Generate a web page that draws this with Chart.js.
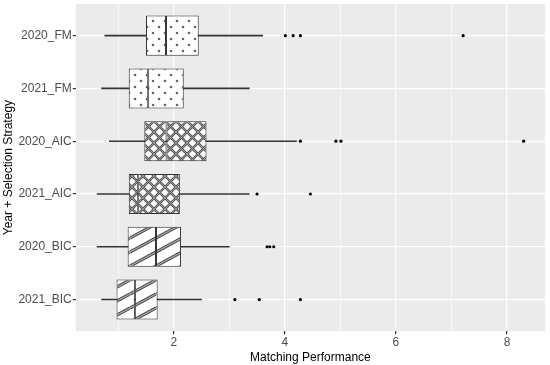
<!DOCTYPE html>
<html>
  <head>
    <title>Matching Performance</title>
    <script src="https://cdn.jsdelivr.net/npm/chart.js"></script>
    <style>
      body { margin: 0; background: #fff; }
      #wrap { width: 550px; height: 365px; }
    </style>
  </head>
  <body>
    <div id="wrap"><canvas id="boxChart"></canvas></div>

    <script>
      // 카테고리 (위에서 아래 순서)
      const labels = ["2020_FM", "2021_FM", "2020_AIC", "2021_AIC", "2020_BIC", "2021_BIC"];

      // 박스플롯 값
      const whiskerLow = [0.76, 0.70, 0.84, 0.62, 0.62, 0.70];
      const q1 = [1.50, 1.19, 1.47, 1.19, 1.17, 0.97];
      const median = [1.86, 1.54, 1.87, 1.36, 1.68, 1.30];
      const q3 = [2.45, 2.18, 2.59, 2.11, 2.13, 1.71];
      const whiskerHigh = [3.60, 3.36, 4.21, 3.36, 3.00, 2.50];

      // 이상치
      const outliers = [
        [4.01, 4.15, 4.28, 7.21],
        [],
        [4.28, 4.92, 5.01, 8.30],
        [3.50, 4.46],
        [3.68, 3.73, 3.80],
        [3.10, 3.54, 4.28],
      ];

      const xTicks = [1, 2, 3, 4, 5, 6, 7, 8];

      // 패턴 만들기
      function makePattern(kind) {
        const c = document.createElement("canvas");
        const g = c.getContext("2d");
        if (kind === "dots") {
          c.width = 12; c.height = 12;
          g.fillStyle = "#fff";
          g.fillRect(0, 0, 12, 12);
          g.fillStyle = "#666";
          [[3, 3], [9, 9]].forEach(([x, y]) => {
            g.beginPath();
            g.arc(x, y, 1.3, 0, Math.PI * 2);
            g.fill();
          });
        } else if (kind === "cross") {
          const s = 11;
          c.width = s; c.height = s;
          g.fillStyle = "#fff";
          g.fillRect(0, 0, s, s);
          const draw = (w, col) => {
            g.strokeStyle = col;
            g.lineWidth = w;
            for (let k = -1; k <= 1; k++) {
              g.beginPath();
              g.moveTo(k * s, 0); g.lineTo(k * s + s, s);
              g.moveTo(k * s + s, 0); g.lineTo(k * s, s);
              g.stroke();
            }
          };
          draw(2.4, "#555");
          draw(0.8, "#aaa");
        } else {
          const w = 26, h = 14;
          c.width = w; c.height = h;
          g.fillStyle = "#fff";
          g.fillRect(0, 0, w, h);
          const draw = (lw, col) => {
            g.strokeStyle = col;
            g.lineWidth = lw;
            for (let k = -1; k <= 1; k++) {
              g.beginPath();
              g.moveTo(0, h + k * h); g.lineTo(w, k * h);
              g.stroke();
            }
          };
          draw(3.2, "#444");
          draw(1.2, "#aaa");
        }
        return g.createPattern(c, "repeat");
      }

      const pats = { FM: makePattern("dots"), AIC: makePattern("cross"), BIC: makePattern("stripes") };
      const fills = labels.map((l) => pats[l.split("_")[1]]);

      // 회색 패널 배경
      const panelBg = {
        id: "panelBg",
        beforeDraw(chart) {
          const { ctx, chartArea: a } = chart;
          ctx.save();
          ctx.fillStyle = "#EBEBEB";
          ctx.fillRect(a.left, a.top, a.right - a.left, a.bottom - a.top);
          ctx.restore();
        },
      };

      const boxCommon = {
        type: "bar",
        indexAxis: "y",
        grouped: false,
        categoryPercentage: 1,
        barPercentage: 0.76,
        borderColor: "#333",
        borderWidth: 1,
        borderSkipped: false,
        backgroundColor: fills,
        order: 2,
      };

      const pointData = [];
      outliers.forEach((arr, i) => arr.forEach((v) => pointData.push({ x: v, y: i })));

      const font = { family: "'Liberation Sans', Arial, sans-serif", size: 12 };

      new Chart(document.getElementById("boxChart"), {
        data: {
          datasets: [
            {
              type: "bar",
              indexAxis: "y",
              grouped: false,
              data: labels.map((l, i) => ({ x: [whiskerLow[i], whiskerHigh[i]], y: i })),
              barThickness: 1,
              backgroundColor: "#333",
              borderWidth: 0,
              order: 3,
            },
            Object.assign({}, boxCommon, {
              data: labels.map((l, i) => ({ x: [q1[i], median[i]], y: i })),
            }),
            Object.assign({}, boxCommon, {
              data: labels.map((l, i) => ({ x: [median[i], q3[i]], y: i })),
            }),
            {
              type: "scatter",
              data: pointData,
              pointRadius: 1.6,
              pointBackgroundColor: "#000",
              pointBorderWidth: 0,
              order: 1,
            },
          ],
        },
        options: {
          responsive: true,
          maintainAspectRatio: false,
          animation: false,
          layout: { padding: { top: 4, right: 5, bottom: 0, left: 0 } },
          plugins: { legend: { display: false }, tooltip: { enabled: false } },
          scales: {
            x: {
              type: "linear",
              min: 0.236,
              max: 8.684,
              offset: false,
              afterBuildTicks: (axis) => {
                axis.ticks = xTicks.map((v) => ({ value: v }));
              },
              border: { display: false },
              grid: {
                offset: false,
                color: "#fff",
                lineWidth: (c) => (c.tick && c.tick.value % 2 === 0 ? 1.2 : 0.6),
                tickColor: (c) => (c.tick && c.tick.value % 2 === 0 ? "#333" : "rgba(0,0,0,0)"),
                tickLength: 3,
              },
              ticks: {
                color: "#4D4D4D",
                font: font,
                padding: 1,
                maxRotation: 0,
                callback: (v) => (v % 2 === 0 ? v : ""),
              },
              title: {
                display: true,
                text: "Matching Performance",
                color: "#000",
                font: font,
                padding: { top: 0, bottom: 0 },
              },
            },
            y: {
              type: "linear",
              reverse: true,
              min: -0.6,
              max: 5.6,
              offset: false,
              afterBuildTicks: (axis) => {
                axis.ticks = labels.map((l, i) => ({ value: i }));
              },
              afterFit: (axis) => {
                axis.paddingTop = 0;
                axis.paddingBottom = 0;
              },
              border: { display: false },
              grid: { offset: false, color: "#fff", lineWidth: 1.2, tickColor: "#333", tickLength: 3 },
              ticks: {
                color: "#4D4D4D",
                font: font,
                padding: 1,
                callback: (v) => labels[v],
              },
              title: {
                display: true,
                text: "Year + Selection Strategy",
                color: "#000",
                font: font,
                padding: { top: 1, bottom: 2 },
              },
            },
          },
        },
        plugins: [panelBg],
      });
    </script>
  </body>
</html>
